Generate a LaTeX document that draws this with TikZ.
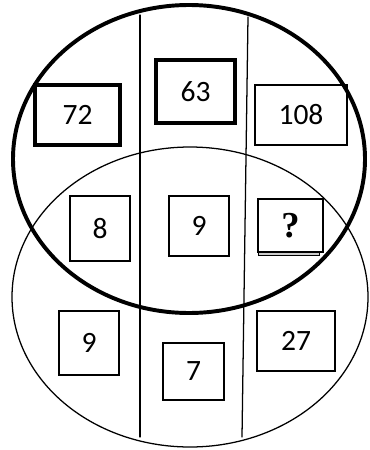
\documentclass[tikz,border=0pt]{standalone}
\usepackage{fontspec}
\setmainfont{Carlito}
\newfontfamily\qfont{Liberation Serif}

\begin{document}
\begin{tikzpicture}[x=0.25mm, y=-0.25mm, line cap=round]
    \tikzset{numbox/.style={draw, line width=0.9pt, inner sep=0pt, font=\fontsize{21}{22}\selectfont},
             heavybox/.style={numbox, line width=2.8pt}}
    \useasboundingbox (0,0) rectangle (369,450);

    % Lower ellipse (thin) and upper ellipse (thick)
    \draw[line width=0.9pt] (190,297) ellipse (178 and 150);
    \draw[line width=2.8pt] (189,159) ellipse (176 and 154);

    % Column lines
    \draw[line width=0.9pt] (140,15) -- (140,437);
    \draw[line width=0.9pt] (248,17) -- (242,437);

    % Top row
    \node[heavybox, minimum width=21.25mm, minimum height=15mm] (b72) at (77.5,115) {72};
    \node[heavybox, minimum width=19.75mm, minimum height=15.75mm] (b63) at (195.5,91.5) {63};
    \node[numbox, minimum width=23mm, minimum height=15mm] (b108) at (301,115) {108};

    % Middle row
    \node[numbox, minimum width=15mm, minimum height=16.25mm] (b8) at (100,228.5) {8};
    \node[numbox, minimum width=15mm, minimum height=15mm] (b9m) at (199,226) {9};
    \node[numbox, minimum width=16.25mm, minimum height=13.25mm, font=\qfont\bfseries\fontsize{26}{28}\selectfont] (bq) at (290.5,225.5) {?};
    \draw[fill=gray!40, line width=0.5pt] ([shift={(1,0)}]bq.south west) rectangle ([shift={(-4,3)}]bq.south east);

    % Bottom row
    \node[numbox, minimum width=15mm, minimum height=16mm] (b9l) at (89,343) {9};
    \node[numbox, minimum width=15.25mm, minimum height=14.25mm] (b7) at (193.5,371.5) {7};
    \node[numbox, minimum width=19.5mm, minimum height=15mm] (b27) at (296,341) {27};
\end{tikzpicture}
\end{document}
